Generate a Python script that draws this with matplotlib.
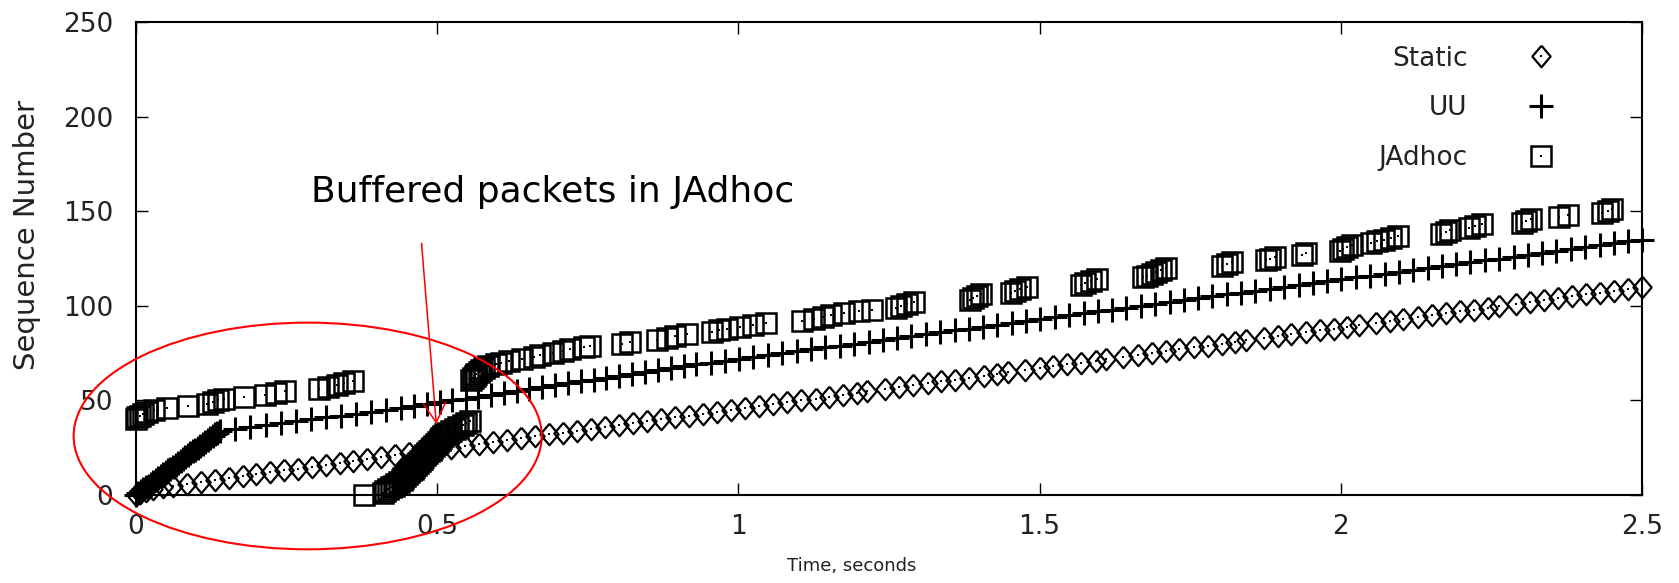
import numpy as np
import matplotlib.pyplot as plt
from matplotlib.patches import Ellipse
from matplotlib.legend_handler import HandlerTuple

# arrival time [s] of each packet, index = sequence number
static_time = [
    0.000, 0.006, 0.016, 0.028, 0.044, 0.062, 0.085, 0.108, 0.131, 0.154,
    0.177, 0.200, 0.223, 0.246, 0.269, 0.292, 0.315, 0.338, 0.361, 0.384,
    0.407, 0.430, 0.453, 0.476, 0.500, 0.523, 0.546, 0.569, 0.593, 0.616,
    0.639, 0.662, 0.686, 0.709, 0.732, 0.755, 0.779, 0.802, 0.825, 0.848,
    0.872, 0.895, 0.918, 0.941, 0.965, 0.988, 1.011, 1.035, 1.058, 1.081,
    1.104, 1.128, 1.151, 1.174, 1.197, 1.214, 1.244, 1.267, 1.290, 1.314,
    1.337, 1.360, 1.383, 1.407, 1.430, 1.447, 1.476, 1.500, 1.523, 1.546,
    1.569, 1.593, 1.611, 1.639, 1.663, 1.686, 1.709, 1.732, 1.756, 1.779,
    1.802, 1.825, 1.843, 1.872, 1.895, 1.918, 1.942, 1.965, 1.988, 2.011,
    2.030, 2.058, 2.081, 2.104, 2.128, 2.151, 2.174, 2.198, 2.221, 2.244,
    2.262, 2.291, 2.314, 2.337, 2.360, 2.384, 2.407, 2.430, 2.453, 2.477,
    2.500]

uu_time = [
    0.000, 0.004, 0.008, 0.012, 0.016, 0.021, 0.025, 0.029, 0.033, 0.037,
    0.041, 0.045, 0.049, 0.053, 0.057, 0.062, 0.066, 0.070, 0.074, 0.078,
    0.082, 0.086, 0.090, 0.094, 0.098, 0.103, 0.107, 0.111, 0.115, 0.119,
    0.123, 0.127, 0.131, 0.135, 0.140, 0.165, 0.190, 0.215, 0.240, 0.265,
    0.290, 0.315, 0.340, 0.365, 0.390, 0.415, 0.440, 0.461, 0.483, 0.504,
    0.525, 0.547, 0.568, 0.589, 0.611, 0.632, 0.653, 0.674, 0.696, 0.717,
    0.738, 0.760, 0.781, 0.802, 0.824, 0.845, 0.866, 0.888, 0.909, 0.930,
    0.954, 0.978, 1.001, 1.025, 1.049, 1.073, 1.097, 1.121, 1.144, 1.168,
    1.192, 1.216, 1.240, 1.263, 1.287, 1.311, 1.335, 1.359, 1.382, 1.406,
    1.430, 1.454, 1.478, 1.501, 1.525, 1.549, 1.573, 1.597, 1.620, 1.644,
    1.668, 1.692, 1.716, 1.739, 1.763, 1.787, 1.811, 1.835, 1.858, 1.882,
    1.906, 1.930, 1.954, 1.977, 2.001, 2.025, 2.049, 2.073, 2.096, 2.120,
    2.144, 2.168, 2.192, 2.215, 2.239, 2.263, 2.287, 2.311, 2.334, 2.358,
    2.382, 2.406, 2.430, 2.453, 2.477, 2.500]

jadhoc_time = [
    # 0-39: buffered, delivered late
    0.379, 0.410, 0.414, 0.419, 0.423, 0.428, 0.432, 0.436, 0.441, 0.444,
    0.447, 0.450, 0.453, 0.456, 0.459, 0.462, 0.465, 0.468, 0.471, 0.474,
    0.477, 0.480, 0.483, 0.486, 0.489, 0.492, 0.495, 0.498, 0.501, 0.504,
    0.507, 0.510, 0.513, 0.518, 0.523, 0.529, 0.535, 0.542, 0.548, 0.554,
    # 40-60
    0.000, 0.002, 0.006, 0.011, 0.018, 0.030, 0.051, 0.087, 0.118, 0.127,
    0.136, 0.146, 0.179, 0.214, 0.232, 0.248, 0.303, 0.318, 0.333, 0.346,
    0.360,
    # 61-151
    0.556, 0.559, 0.562, 0.565, 0.569, 0.573, 0.578, 0.584,
    0.598, 0.606, 0.619, 0.641, 0.660, 0.671, 0.693, 0.709, 0.720, 0.743,
    0.754, 0.807, 0.820, 0.865, 0.881, 0.895, 0.915, 0.956, 0.967, 0.981,
    1.003, 1.025, 1.045, 1.106, 1.125, 1.140, 1.153, 1.175, 1.200, 1.222,
    1.262, 1.270, 1.280, 1.291, 1.384, 1.390, 1.396, 1.402, 1.452, 1.459,
    1.468, 1.479, 1.568, 1.575, 1.585, 1.595, 1.672, 1.678, 1.686, 1.694,
    1.702, 1.710, 1.803, 1.811, 1.820, 1.876, 1.883, 1.891, 1.936, 1.943,
    1.998, 2.004, 2.011, 2.019, 2.050, 2.060, 2.072, 2.084, 2.095, 2.166,
    2.174, 2.182, 2.212, 2.222, 2.235, 2.300, 2.307, 2.315, 2.363, 2.377,
    2.434, 2.443, 2.451]

series_labels = ['Static', 'UU', 'JAdhoc']
x_ticks = [0, 0.5, 1, 1.5, 2, 2.5]
x_ticklabels = ['0', '0.5', '1', '1.5', '2', '2.5']
y_ticks = [0, 50, 100, 150, 200, 250]

TEXT_COLOR = '#222222'
DIAMOND = [(0, 1), (0.85, 0), (0, -1), (-0.85, 0), (0, 1)]

fig = plt.figure(figsize=(16.79, 5.83), dpi=100)
ax = fig.add_axes([136 / 1679, 88 / 583, 1506 / 1679, 473 / 583])


def plot_points(times, marker, ms, mew, dot=True):
    seq = np.arange(len(times))
    line, = ax.plot(times, seq, ls='none', marker=marker, ms=ms, mew=mew,
                    mfc='none', mec='black', clip_on=False)
    handle = (line,)
    if dot:
        # small dot in the middle of open symbols (gnuplot style)
        d, = ax.plot(times, seq, ls='none', marker='s', ms=1.8, mew=0,
                     mfc='black', clip_on=False)
        handle = (line, d)
    return handle


h_static = plot_points(static_time, DIAMOND, 15.5, 1.6)
h_uu = plot_points(uu_time, '+', 17, 2.2, dot=False)
h_jadhoc = plot_points(jadhoc_time, 's', 14.5, 1.8)

ax.set_xlim(0, 2.5)
ax.set_ylim(0, 250)
ax.set_xticks(x_ticks, x_ticklabels)
ax.set_yticks(y_ticks)
ax.tick_params(direction='in', length=8.5, width=1.0, top=True, right=True,
               labelsize=19, labelcolor=TEXT_COLOR)
ax.tick_params(axis='x', pad=14)
ax.tick_params(axis='y', pad=16.5)
for sp in ax.spines.values():
    sp.set_linewidth(1.5)

ax.set_xlabel('Time, seconds', fontsize=13, color=TEXT_COLOR)
ax.xaxis.set_label_coords(0.475, -0.132)
ax.set_ylabel('Sequence Number', fontsize=21, color=TEXT_COLOR)
ax.yaxis.set_label_coords(-0.063, 0.55)

ax.legend([h_static, h_uu, h_jadhoc], series_labels,
          handler_map={tuple: HandlerTuple(ndivide=1)},
          loc='upper right', bbox_to_anchor=(0.942, 0.95),
          frameon=False, markerfirst=False, numpoints=1,
          handlelength=1.0, handletextpad=2.3, labelspacing=0.9,
          borderpad=0, borderaxespad=0, fontsize=19, labelcolor=TEXT_COLOR)

# red annotation: ellipse around the start-up phase plus an arrow
ax.add_patch(Ellipse((0.285, 31.2), 0.777, 119.8, fill=False, ec='red',
                     lw=1.5, clip_on=False, zorder=5))
ax.text(0.691, 154.9, 'Buffered packets in JAdhoc', fontsize=26,
        ha='center', va='baseline', color='black')
ax.annotate('', xy=(0.4985, 37.5), xytext=(0.474, 133),
            arrowprops=dict(arrowstyle='->,head_length=0.7,head_width=0.4',
                            mutation_scale=20, color='red', lw=1.1,
                            shrinkA=0, shrinkB=0), zorder=5)

fig.savefig('out.png', dpi=100)
